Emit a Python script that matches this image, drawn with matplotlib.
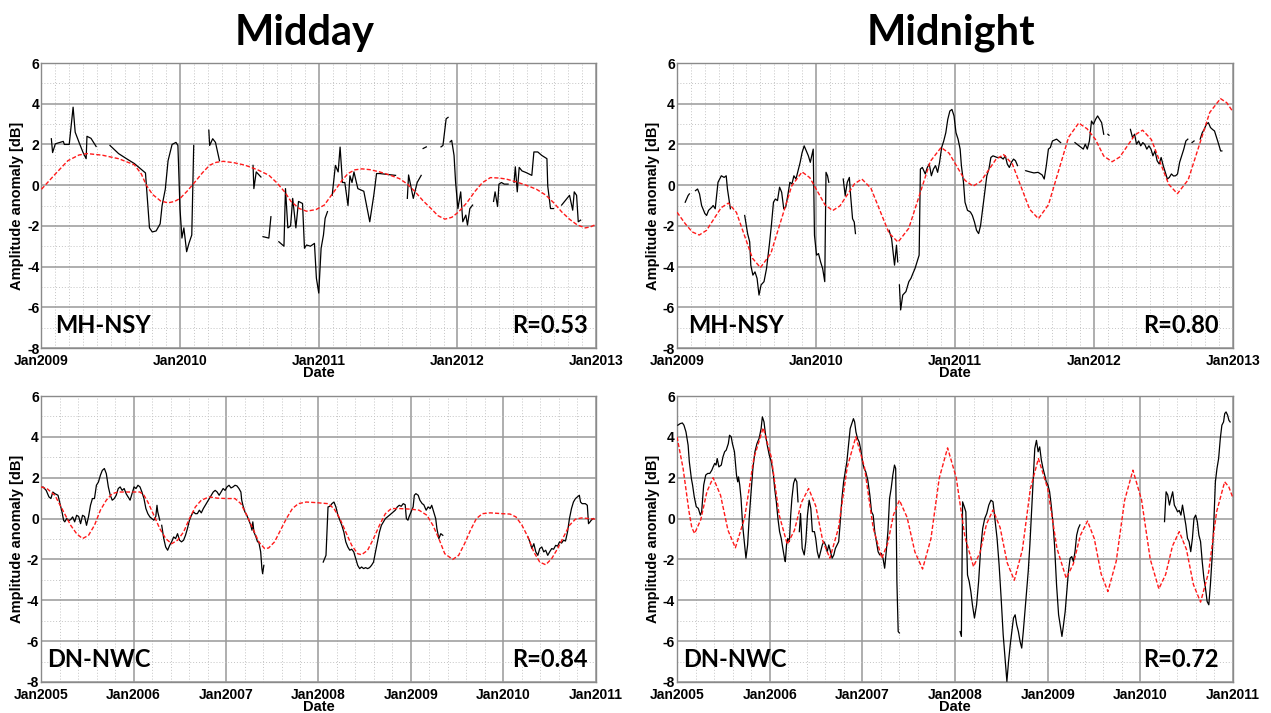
import numpy as np
import matplotlib
matplotlib.use("Agg")
from matplotlib import pyplot as plt
from matplotlib.ticker import MultipleLocator, FixedLocator

plt.rcParams["axes.unicode_minus"] = False
nan = np.nan

# ---- Midday, MH-NSY (2009-2013) ----
tl_obs_t = [2009.071, 2009.080, 2009.100, 2009.157, 2009.165, 2009.200, 2009.228, 2009.243, 2009.271, 2009.300,
            2009.322, 2009.328, 2009.357, 2009.394, nan,
            2009.494, 2009.556, 2009.613, 2009.670, 2009.713, 2009.750, 2009.762, 2009.779, 2009.799, 2009.827,
            2009.856, 2009.870, 2009.893, 2009.913, 2009.942, 2009.970, 2009.984, 2009.999, 2010.013, 2010.027,
            2010.047, 2010.064, 2010.084, 2010.098, nan,
            2010.207, 2010.213, 2010.235, 2010.255, 2010.284, nan,
            2010.526, 2010.532, 2010.549, 2010.583, nan,
            2010.598, 2010.640, 2010.655, nan,
            2010.712, 2010.749, 2010.760, 2010.777, 2010.797, 2010.812, 2010.835, 2010.854, 2010.883, 2010.897,
            2010.912, 2010.940, 2010.969, 2010.983, 2011.000, 2011.017, 2011.034, 2011.046, 2011.063, nan,
            2011.097, 2011.120, 2011.140, 2011.154, 2011.171, 2011.188, 2011.211, 2011.225, 2011.240, 2011.254,
            2011.282, 2011.325, 2011.368, 2011.397, 2011.417, 2011.439, 2011.554, nan,
            2011.639, 2011.648, 2011.682, 2011.710, 2011.739, nan,
            2011.753, 2011.776, nan,
            2011.882, 2011.896, 2011.919, 2011.933, nan,
            2011.947, 2011.959, 2011.976, 2011.987, 2012.004, 2012.024, 2012.039, 2012.061, 2012.073, 2012.090,
            2012.110, nan,
            2012.261, 2012.272, 2012.290, 2012.300, 2012.318, 2012.338, 2012.366, nan,
            2012.409, 2012.418, 2012.432, 2012.446, 2012.466, 2012.495, 2012.537, 2012.552, 2012.580, 2012.609,
            2012.646, 2012.652, 2012.672, 2012.694, nan,
            2012.752, 2012.809, 2012.832, 2012.843, 2012.860, 2012.872, 2012.889]
tl_obs_v = [2.28, 1.6, 2.03, 2.15, 2.0, 2.0, 3.83, 2.6, 2.1, 1.6,
            1.3, 2.4, 2.3, 1.9, nan,
            1.95, 1.55, 1.3, 1.06, 0.81, 0.6, -0.5, -2.1, -2.3, -2.25,
            -1.9, -1.0, -0.2, 1.2, 2.0, 2.1, 1.95, -1.15, -2.6, -2.1,
            -3.27, -2.85, -2.45, 1.95, nan,
            2.7, 1.95, 2.28, 2.1, 1.2, nan,
            0.97, -0.17, 0.65, 0.4, nan,
            -2.53, -2.6, -1.55, nan,
            -2.78, -3.0, -0.17, -2.1, -2.0, -0.65, -2.1, -0.8, -0.9, -3.1,
            -2.94, -3.0, -2.86, -4.57, -5.3, -3.1, -2.45, -1.63, -1.3, nan,
            -0.5, 0.97, 0.65, 1.87, 0.13, 0.13, -1.0, 0.46, 0.13, 0.65,
            -0.17, -0.3, -1.8, -0.5, 0.57, 0.57, 0.48, nan,
            -0.65, 0.5, -0.65, 0.13, 0.48, nan,
            1.8, 1.88, nan,
            1.88, 1.95, 3.26, 3.33, nan,
            2.12, 2.2, 1.46, 0.16, -1.15, -0.33, -1.8, -1.47, -1.96, -1.15,
            -0.98, nan,
            -0.8, -0.33, -1.05, 0.05, 0.13, 0.05, 0.05, nan,
            0.13, 0.9, -0.33, 0.87, 0.7, 0.62, 0.48, 1.63, 1.63, 1.46,
            1.3, -0.05, -1.15, -1.15, nan,
            -0.98, -0.5, -1.23, -0.33, -0.5, -1.8, -1.72]
tl_fit_t = [2009.0, 2009.10, 2009.19, 2009.27, 2009.33, 2009.44, 2009.556, 2009.67, 2009.72, 2009.756,
            2009.80, 2009.86, 2009.913, 2009.96, 2010.0, 2010.05, 2010.098, 2010.16, 2010.213, 2010.26,
            2010.312, 2010.39, 2010.469, 2010.56, 2010.64, 2010.70, 2010.754, 2010.80, 2010.86, 2010.912,
            2010.98, 2011.04, 2011.08, 2011.126, 2011.17, 2011.211, 2011.26, 2011.311, 2011.37, 2011.439,
            2011.51, 2011.582, 2011.64, 2011.696, 2011.75, 2011.81, 2011.86, 2011.91, 2011.96, 2012.01,
            2012.07, 2012.124, 2012.18, 2012.238, 2012.30, 2012.352, 2012.42, 2012.495, 2012.57, 2012.638,
            2012.70, 2012.752, 2012.81, 2012.866, 2012.923, 2012.96, 2013.0]
tl_fit_v = [-0.2, 0.55, 1.2, 1.48, 1.55, 1.47, 1.3, 1.0, 0.55, 0.0,
            -0.45, -0.78, -0.87, -0.8, -0.65, -0.3, 0.08, 0.6, 0.98, 1.12,
            1.17, 1.1, 0.98, 0.75, 0.49, 0.1, -0.33, -0.8, -1.15, -1.28,
            -1.2, -0.98, -0.6, -0.17, 0.25, 0.57, 0.75, 0.8, 0.76, 0.65,
            0.5, 0.32, 0.05, -0.33, -0.75, -1.15, -1.5, -1.67, -1.58, -1.31,
            -0.85, -0.33, 0.12, 0.37, 0.35, 0.3, 0.17, 0.0, -0.2, -0.49,
            -0.9, -1.31, -1.68, -1.96, -2.1, -2.05, -1.93]

# ---- Midnight, MH-NSY (2009-2013) ----
tr_obs_t = [2009.059, 2009.080, 2009.089, nan,
            2009.133, 2009.148, 2009.162, 2009.177, 2009.201, 2009.213, 2009.227, 2009.251, 2009.260, 2009.275,
            2009.295, 2009.319, 2009.339, 2009.354, 2009.363, 2009.384, nan,
            2009.487, 2009.508, 2009.523, 2009.531, 2009.546, 2009.561, 2009.576, 2009.590, 2009.605, 2009.626,
            2009.644, 2009.664, 2009.679, 2009.694, 2009.708, 2009.723, 2009.738, 2009.753, 2009.768, 2009.782,
            2009.797, 2009.812, 2009.827, 2009.841, 2009.856, 2009.871, 2009.886, 2009.900, 2009.915, 2009.930,
            2009.945, 2009.959, 2009.974, 2009.980, 2009.989, 2010.004, 2010.018, 2010.033, 2010.048, 2010.063,
            2010.072, 2010.083, 2010.092, nan,
            2010.196, 2010.210, 2010.225, 2010.240, 2010.249, 2010.263, 2010.275, 2010.284, nan,
            2010.526, 2010.544, 2010.565, 2010.579, 2010.588, nan,
            2010.600, 2010.609, 2010.624, 2010.647, 2010.668, 2010.683, 2010.697, 2010.712, 2010.727, 2010.742,
            2010.751, 2010.765, 2010.786, 2010.801, 2010.815, 2010.830, 2010.845, 2010.860, 2010.875, 2010.889,
            2010.904, 2010.919, 2010.934, 2010.948, 2010.963, 2010.978, 2010.993, 2011.007, 2011.022, 2011.037,
            2011.046, 2011.061, 2011.072, 2011.090, 2011.111, 2011.125, 2011.140, 2011.155, 2011.170, 2011.184,
            2011.199, 2011.214, 2011.229, 2011.244, 2011.258, 2011.273, 2011.303, 2011.332, 2011.347, 2011.362,
            2011.376, 2011.391, 2011.406, 2011.421, 2011.435, 2011.450, nan,
            2011.509, 2011.539, 2011.568, 2011.598, 2011.627, 2011.642, 2011.657, 2011.672, 2011.686, 2011.701,
            2011.731, 2011.760, nan,
            2011.863, 2011.893, 2011.908, 2011.923, 2011.937, 2011.952, 2011.967, 2011.982, 2011.996, 2012.011,
            2012.026, 2012.041, 2012.055, 2012.070, nan,
            2012.100, 2012.108, nan,
            2012.262, 2012.277, 2012.292, 2012.306, 2012.321, 2012.336, 2012.351, 2012.365, 2012.380, 2012.395,
            2012.410, 2012.424, 2012.439, 2012.454, 2012.469, 2012.483, 2012.498, 2012.513, 2012.528, 2012.542,
            2012.557, 2012.572, 2012.587, 2012.601, 2012.616, 2012.631, 2012.646, 2012.661, 2012.675, nan,
            2012.705, 2012.720, nan,
            2012.764, 2012.779, 2012.793, 2012.808, 2012.823, 2012.838, 2012.852, 2012.867, 2012.882, 2012.897,
            2012.911, 2012.920]
tr_obs_v = [-0.84, -0.51, -0.43, nan,
            -0.27, -0.19, -0.43, -1.0, -1.4, -1.49, -1.24, -1.08, -1.0, -1.16,
            0.14, 0.46, 0.38, 0.46, -0.19, -1.16, nan,
            -1.49, -2.38, -2.79, -3.93, -4.42, -4.26, -4.58, -5.4, -4.9, -4.74,
            -4.1, -2.95, -1.98, -0.84, -0.68, -0.76, -0.1, -0.35, -1.16, -1.08,
            -0.51, 0.14, 0.06, 0.46, 0.3, 0.71, 1.12, 1.6, 1.93, 1.68,
            1.44, 1.12, 1.6, 1.77, -2.46, -3.44, -3.36, -3.77, -4.1, -4.74,
            0.63, 0.46, 0.14, nan,
            0.3, -0.51, 0.14, 0.38, -0.51, -1.65, -1.81, -2.38, nan,
            -2.22, -2.63, -3.93, -2.95, -3.77, nan,
            -4.9, -6.13, -5.4, -5.23, -4.74, -4.58, -4.34, -4.1, -3.77, -3.44,
            0.79, 0.87, 0.55, 0.87, 1.04, 0.46, 0.79, 0.96, 0.63, 1.12,
            1.85, 2.17, 2.58, 3.23, 3.64, 3.72, 3.40, 2.58, 2.26, 1.77,
            0.96, 0.14, -0.84, -1.24, -1.32, -1.49, -1.81, -2.22, -2.38, -1.98,
            -1.16, -0.35, 0.46, 0.79, 1.36, 1.44, 1.36, 1.36, 1.28, 1.44,
            1.04, 0.87, 1.12, 1.28, 1.2, 0.96, nan,
            0.71, 0.65, 0.6, 0.63, 0.5, 0.3, 0.96, 1.77, 1.85, 2.17,
            2.26, 2.09, nan,
            2.09, 1.93, 1.85, 1.77, 2.01, 1.77, 2.17, 3.15, 2.99, 3.23,
            3.4, 3.23, 3.07, 2.5, nan,
            2.5, 2.45, nan,
            2.74, 2.34, 2.5, 2.01, 2.17, 1.93, 2.09, 2.0, 1.77, 1.93,
            1.77, 1.44, 1.68, 1.2, 1.04, 1.36, 0.96, 0.63, 0.3, 0.38,
            0.55, 0.45, 0.46, 0.55, 1.12, 1.44, 1.77, 2.17, 2.26, nan,
            2.09, 2.17, nan,
            2.26, 2.58, 2.74, 2.99, 3.07, 2.83, 2.74, 2.66, 2.34, 2.01,
            1.68, 1.68]
tr_fit_t = [2009.0, 2009.06, 2009.11, 2009.16, 2009.2125, 2009.265, 2009.3175, 2009.37, 2009.4275, 2009.485,
            2009.5425, 2009.60, 2009.675, 2009.75, 2009.825, 2009.90, 2009.955, 2010.01, 2010.065, 2010.12,
            2010.1725, 2010.225, 2010.2775, 2010.33, 2010.395, 2010.46, 2010.525, 2010.59, 2010.6675, 2010.745,
            2010.8225, 2010.90, 2010.9575, 2011.015, 2011.0725, 2011.13, 2011.185, 2011.24, 2011.295, 2011.35,
            2011.4125, 2011.475, 2011.5375, 2011.60, 2011.6725, 2011.745, 2011.8175, 2011.89, 2011.95, 2012.01,
            2012.07, 2012.13, 2012.185, 2012.24, 2012.295, 2012.35, 2012.4125, 2012.475, 2012.5375, 2012.60,
            2012.6775, 2012.755, 2012.8325, 2012.91, 2012.955, 2013.0]
tr_fit_v = [-1.33, -1.9, -2.3, -2.45, -2.22, -1.665, -1.11, -0.88, -1.34, -2.465,
            -3.587, -4.05, -3.36, -1.70, -0.04, 0.65, 0.37, -0.30, -0.97, -1.25,
            -1.02, -0.475, 0.07, 0.30, -0.15, -1.25, -2.35, -2.80, -2.12, -0.475,
            1.17, 1.85, 1.57, 0.90, 0.23, -0.05, 0.18, 0.725, 1.27, 1.50,
            1.04, -0.075, -1.19, -1.65, -0.96, 0.70, 2.36, 3.05, 2.77, 2.25,
            1.43, 1.15, 1.38, 1.925, 2.47, 2.70, 2.24, 1.14, 0.04, -0.42,
            0.26, 1.915, 3.57, 4.25, 4.05, 3.6]

# ---- Midday, DN-NWC (2005-2011) ----
bl_obs_t = [2005.021, 2005.056, 2005.086, 2005.107, 2005.128, 2005.150, 2005.184, 2005.201, 2005.227, 2005.244,
            2005.257, 2005.278, 2005.300, 2005.321, 2005.342, 2005.364, 2005.385, 2005.407, 2005.428, 2005.449,
            2005.471, 2005.492, 2005.514, 2005.535, 2005.556, 2005.578, 2005.599, 2005.621, 2005.642, 2005.663,
            2005.685, 2005.706, 2005.728, 2005.749, 2005.770, 2005.792, 2005.813, 2005.835, 2005.856, 2005.877,
            2005.899, 2005.920, 2005.942, 2005.963, 2005.984, 2006.006, 2006.027, 2006.048, 2006.070, 2006.091,
            2006.113, 2006.134, 2006.155, 2006.177, 2006.198, 2006.220, 2006.241, 2006.254, 2006.262, 2006.284, nan,
            2006.305, 2006.327, 2006.348, 2006.369, 2006.391, 2006.412, 2006.434, 2006.455, 2006.476, 2006.498,
            2006.519, 2006.541, 2006.562, 2006.583, 2006.605, 2006.626, 2006.648, 2006.669, 2006.690, 2006.712,
            2006.733, 2006.755, 2006.776, 2006.797, 2006.819, 2006.840, 2006.862, 2006.883, 2006.904, 2006.926,
            2006.947, 2006.969, 2006.990, 2007.011, 2007.033, 2007.054, 2007.076, 2007.097, 2007.118, 2007.140,
            2007.161, 2007.170, 2007.183, 2007.204, 2007.225, 2007.247, 2007.268, 2007.281, 2007.290, 2007.302,
            2007.324, 2007.341, 2007.354, 2007.375, 2007.388, 2007.396, 2007.409, nan,
            2008.051, 2008.081, 2008.103, 2008.124, 2008.145, 2008.167, 2008.188, 2008.210, 2008.231, 2008.252,
            2008.274, 2008.295, 2008.317, 2008.338, 2008.359, 2008.381, 2008.402, 2008.424, 2008.445, 2008.466,
            2008.488, 2008.509, 2008.531, 2008.552, 2008.573, 2008.595, 2008.616, 2008.638, 2008.659, 2008.680,
            2008.702, 2008.723, 2008.745, 2008.766, 2008.787, 2008.809, 2008.830, 2008.852, 2008.873, 2008.894,
            2008.916, 2008.937, 2008.950, 2008.967, 2008.980, 2009.001, 2009.023, 2009.036, 2009.053, 2009.078,
            2009.096, 2009.121, 2009.138, 2009.164, 2009.185, 2009.207, 2009.224, 2009.245, 2009.267, 2009.280,
            2009.301, 2009.322, 2009.344, nan,
            2010.264, 2010.285, 2010.307, 2010.328, 2010.349, 2010.371, 2010.392, 2010.414, 2010.435, 2010.456,
            2010.478, 2010.499, 2010.521, 2010.542, 2010.564, 2010.585, 2010.606, 2010.628, 2010.649, 2010.670,
            2010.692, 2010.713, 2010.735, 2010.756, 2010.778, 2010.799, 2010.820, 2010.833, 2010.850, 2010.885,
            2010.906, 2010.919, 2010.936, 2010.949, 2010.970]
bl_obs_v = [1.55, 1.38, 1.06, 0.98, 1.3, 1.22, 1.14, 0.81, 0.33, -0.08,
            -0.16, 0.0, -0.1, -0.05, 0.08, -0.16, 0.16, 0.1, -0.25, 0.16,
            0.1, -0.33, 0.1, 0.65, 0.98, 0.98, 1.63, 1.79, 2.12, 2.36,
            2.45, 2.2, 1.55, 1.14, 0.9, 0.98, 1.14, 1.47, 1.55, 1.38,
            1.47, 1.22, 1.06, 0.9, 1.22, 1.55, 1.47, 1.63, 1.55, 1.3,
            0.98, 0.49, 0.24, 0.08, 0.0, -0.08, 0.1, 0.65, 0.33, -0.08, nan,
            -0.33, -0.98, -1.39, -1.55, -1.31, -1.14, -0.9, -0.98, -0.74, -1.06,
            -1.14, -1.06, -0.82, -0.49, -0.08, 0.16, 0.33, 0.24, 0.24, 0.41,
            0.28, 0.49, 0.65, 0.81, 0.98, 1.14, 1.3, 1.38, 1.3, 1.14,
            1.3, 1.47, 1.38, 1.55, 1.63, 1.5, 1.55, 1.63, 1.6, 1.47,
            1.3, 0.9, 0.65, 0.33, 0.16, -0.08, -0.33, -0.57, -0.16, -0.66,
            -0.9, -1.14, -1.14, -1.63, -2.45, -2.7, -2.29, nan,
            -2.13, -1.8, 0.57, 0.6, 0.73, 0.81, 0.57, 0.16, -0.08, -0.33,
            -0.66, -1.14, -1.39, -1.55, -1.5, -1.63, -1.96, -2.29, -2.45, -2.37,
            -2.45, -2.4, -2.45, -2.4, -2.29, -2.13, -1.63, -1.14, -0.66, -0.33,
            -0.16, 0.0, 0.08, 0.16, 0.24, 0.33, 0.41, 0.57, 0.65, 0.6,
            0.73, 0.68, 0.0, -0.08, 0.1, 0.33, 0.57, 1.14, 1.22, 1.14,
            0.9, 0.73, 0.68, 0.41, 0.57, 0.49, 0.65, 0.33, 0.0, -0.49,
            -0.98, -0.74, -0.82, nan,
            -0.9, -1.14, -1.47, -1.23, -1.63, -1.8, -1.47, -1.39, -1.63, -1.55,
            -1.8, -1.63, -1.47, -1.5, -1.31, -1.35, -1.14, -1.2, -1.06, -1.1,
            -0.66, 0.0, 0.49, 0.81, 0.98, 1.06, 1.14, 0.81, 0.73, 0.73,
            0.65, -0.25, -0.16, -0.08, 0.0]
bl_fit_t = [2005.0, 2005.064, 2005.150, 2005.235, 2005.321, 2005.385, 2005.449, 2005.514, 2005.578, 2005.642,
            2005.706, 2005.770, 2005.835, 2005.920, 2006.006, 2006.070, 2006.113, 2006.155, 2006.220, 2006.284,
            2006.348, 2006.412, 2006.476, 2006.541, 2006.605, 2006.669, 2006.733, 2006.819, 2006.904, 2007.011,
            2007.097, 2007.161, 2007.225, 2007.290, 2007.354, 2007.418, 2007.461, 2007.525, 2007.589, 2007.653,
            2007.718, 2007.782, 2007.867, 2007.974, 2008.103, 2008.167, 2008.231, 2008.295, 2008.359, 2008.424,
            2008.466, 2008.531, 2008.595, 2008.659, 2008.723, 2008.787, 2008.873, 2009.001, 2009.087, 2009.173,
            2009.237, 2009.301, 2009.365, 2009.451, 2009.515, 2009.579, 2009.643, 2009.707, 2009.772, 2009.857,
            2009.986, 2010.071, 2010.135, 2010.200, 2010.264, 2010.328, 2010.392, 2010.456, 2010.521, 2010.585,
            2010.649, 2010.713, 2010.778, 2010.842, 2010.927, 2011.0]
bl_fit_v = [1.55, 1.47, 1.14, 0.41, -0.33, -0.74, -0.98, -0.82, -0.33, 0.41,
            0.9, 1.22, 1.3, 1.3, 1.3, 1.3, 1.14, 0.81, 0.16, -0.49,
            -0.98, -1.23, -1.06, -0.66, 0.0, 0.57, 0.9, 1.06, 1.0, 0.98,
            0.98, 0.73, 0.16, -0.49, -1.14, -1.47, -1.44, -1.14, -0.57, 0.0,
            0.49, 0.73, 0.81, 0.78, 0.73, 0.49, 0.0, -0.66, -1.31, -1.72,
            -1.77, -1.55, -0.98, -0.33, 0.24, 0.49, 0.49, 0.46, 0.41, 0.16,
            -0.33, -0.98, -1.72, -2.0, -1.8, -1.23, -0.57, 0.0, 0.24, 0.28,
            0.24, 0.22, 0.08, -0.33, -0.9, -1.64, -2.13, -2.26, -1.96, -1.47,
            -0.9, -0.33, -0.03, 0.03, 0.0, -0.03]

# ---- Midnight, DN-NWC (2005-2011) ----
br_obs_t = [2005.009, 2005.035, 2005.058, 2005.075, 2005.097, 2005.120, 2005.133, 2005.155, 2005.168, 2005.186,
            2005.208, 2005.230, 2005.252, 2005.266, 2005.288, 2005.310, 2005.332, 2005.354, 2005.376, 2005.390,
            2005.407, 2005.421, 2005.434, 2005.452, 2005.478, 2005.496, 2005.514, 2005.531, 2005.554, 2005.567,
            2005.585, 2005.598, 2005.620, 2005.642, 2005.655, 2005.664, 2005.677, 2005.691, 2005.708, 2005.726,
            2005.744, 2005.762, 2005.779, 2005.797, 2005.819, 2005.841, 2005.863, 2005.886, 2005.908, 2005.921,
            2005.939, 2005.956, 2005.974, 2005.996, 2006.018, 2006.041, 2006.054, 2006.072, 2006.089, 2006.107,
            2006.125, 2006.142, 2006.160, 2006.169, 2006.182, 2006.196, 2006.213, 2006.227, 2006.240, 2006.258,
            2006.275, 2006.293, 2006.306, nan,
            2006.320, 2006.333, 2006.351, 2006.373, 2006.390, 2006.408, 2006.426, 2006.444, 2006.461, 2006.483,
            2006.497, 2006.514, 2006.532, 2006.550, 2006.568, 2006.585, 2006.603, 2006.621, 2006.638, 2006.656,
            2006.674, 2006.692, 2006.709, 2006.727, 2006.745, 2006.762, 2006.780, 2006.798, 2006.816, 2006.833,
            2006.851, 2006.869, 2006.886, 2006.904, 2006.917, 2006.931, 2006.948, 2006.966, 2006.984, 2007.002,
            2007.019, 2007.037, 2007.059, 2007.081, 2007.099, 2007.117, 2007.134, 2007.152, 2007.170, 2007.188,
            2007.205, 2007.223, 2007.241, 2007.258, 2007.276, 2007.294, 2007.311, 2007.329, 2007.347, 2007.360,
            2007.373, 2007.387, 2007.400, nan,
            2008.055, 2008.069, 2008.082, 2008.100, 2008.117, 2008.135, 2008.153, 2008.171, 2008.188, 2008.210,
            2008.233, 2008.255, 2008.277, 2008.299, 2008.321, 2008.343, 2008.365, 2008.388, 2008.410, 2008.432,
            2008.454, 2008.476, 2008.498, 2008.520, 2008.543, 2008.560, 2008.578, 2008.596, 2008.613, 2008.631,
            2008.649, 2008.666, 2008.684, 2008.702, 2008.720, 2008.737, 2008.755, 2008.773, 2008.790, 2008.808,
            2008.826, 2008.844, 2008.861, 2008.879, 2008.897, 2008.914, 2008.932, 2008.950, 2008.968, 2008.985,
            2009.003, 2009.021, 2009.038, 2009.056, 2009.074, 2009.096, 2009.118, 2009.140, 2009.154, 2009.171,
            2009.189, 2009.207, 2009.224, 2009.242, 2009.260, 2009.278, 2009.295, 2009.313, 2009.331, 2009.348, nan,
            2010.261, 2010.278, 2010.296, 2010.314, 2010.331, 2010.349, 2010.367, 2010.385, 2010.402, 2010.420,
            2010.438, 2010.455, 2010.473, 2010.491, 2010.509, 2010.526, 2010.544, 2010.562, 2010.579, 2010.597,
            2010.615, 2010.632, 2010.650, 2010.668, 2010.686, 2010.703, 2010.721, 2010.739, 2010.756, 2010.774,
            2010.792, 2010.810, 2010.827, 2010.845, 2010.863, 2010.880, 2010.898, 2010.911, 2010.925, 2010.942,
            2010.956, 2010.969]
br_obs_v = [4.57, 4.65, 4.68, 4.57, 4.24, 3.59, 2.78, 1.96, 1.64, 1.07,
            0.58, 0.5, 0.17, 0.33, 1.64, 2.13, 2.21, 2.21, 2.37, 2.53,
            2.7, 2.62, 2.94, 2.53, 2.62, 3.02, 3.27, 3.35, 3.67, 4.08,
            4.0, 3.67, 3.27, 2.13, 1.8, 2.04, 1.64, 0.99, -0.31, -1.13,
            -1.94, -1.29, 0.01, 1.15, 2.45, 3.27, 3.67, 3.92, 4.41, 4.98,
            4.73, 4.08, 3.59, 3.1, 2.78, 2.13, 1.47, 0.82, 0.01, -0.64,
            -0.97, -1.46, -1.94, -2.11, -1.29, -0.97, -1.13, 0.17, 0.99, 1.72,
            1.96, 1.8, 0.82, nan,
            -0.64, 0.25, -1.46, -1.78, -1.13, 0.17, 0.9, 0.5, -0.64, -0.64,
            -0.97, -1.62, -1.94, -1.62, -1.29, -1.13, -1.29, -1.62, -1.29, -1.62,
            -1.94, -1.78, -1.46, -1.29, -1.13, -0.15, 0.99, 1.8, 2.29, 2.78,
            3.59, 4.41, 4.65, 4.89, 4.73, 4.24, 3.92, 3.75, 3.35, 2.78,
            2.45, 2.29, 1.88, 1.15, 0.33, 0.17, -0.64, -1.13, -1.62, -1.78,
            -1.7, -1.94, -2.43, -1.62, -0.64, 0.99, 1.47, 2.13, 2.62, 2.45,
            -3.08, -5.53, -5.6, nan,
            -5.53, -5.77, 0.82, 0.58, 0.33, -2.76, -3.08, -3.57, -4.22, -4.87,
            -4.22, -3.08, -1.46, -0.48, 0.01, 0.25, 0.66, 0.9, 0.82, -0.07,
            -0.97, -2.27, -3.9, -5.69, -6.99, -7.97, -6.99, -6.18, -5.53, -4.87,
            -4.71, -5.2, -5.53, -6.01, -6.34, -5.53, -4.55, -3.57, -2.6, -1.29,
            0.33, 1.96, 3.43, 3.83, 3.27, 3.51, 2.86, 2.45, 2.13, 1.8,
            1.64, 1.31, 0.66, -0.15, -1.29, -3.25, -4.71, -5.36, -5.77, -5.2,
            -4.55, -3.57, -2.6, -1.94, -1.86, -2.11, -1.62, -0.81, -0.48, -0.31, nan,
            -0.15, 1.31, 1.15, 0.66, 0.99, 1.31, 0.66, 0.5, 0.33, 0.4,
            0.17, 0.66, 0.17, -0.31, -0.97, -1.13, -1.62, -0.97, 0.01, 0.17,
            -0.15, -0.81, -1.13, -2.11, -2.92, -3.41, -4.06, -4.22, -3.25, -1.94,
            -0.31, 1.8, 2.45, 2.94, 3.92, 4.57, 4.73, 5.14, 5.22, 5.06,
            4.81, 4.73]
br_fit_t = [2005.0, 2005.066, 2005.13, 2005.16, 2005.19, 2005.257, 2005.323, 2005.39, 2005.47, 2005.55,
            2005.63, 2005.73, 2005.83, 2005.93, 2006.017, 2006.103, 2006.19, 2006.267, 2006.343, 2006.42,
            2006.497, 2006.573, 2006.65, 2006.743, 2006.837, 2006.93, 2007.023, 2007.117, 2007.21, 2007.273,
            2007.337, 2007.40, 2007.483, 2007.567, 2007.65, 2007.74, 2007.83, 2007.92, 2008.013, 2008.107,
            2008.20, 2008.27, 2008.34, 2008.41, 2008.487, 2008.563, 2008.64, 2008.727, 2008.813, 2008.90,
            2009.0, 2009.1, 2009.20, 2009.277, 2009.353, 2009.43, 2009.503, 2009.577, 2009.65, 2009.74,
            2009.83, 2009.92, 2010.013, 2010.107, 2010.20, 2010.273, 2010.347, 2010.42, 2010.497, 2010.573,
            2010.65, 2010.737, 2010.823, 2010.91, 2010.955, 2011.0]
br_fit_v = [4.0, 2.45, 0.33, -0.45, -0.73, -0.05, 1.32, 2.0, 1.14, -0.57,
            -1.43, 0.04, 2.97, 4.44, 3.015, 0.165, -1.26, -0.58, 0.79, 1.47,
            0.62, -1.09, -1.94, -0.455, 2.515, 4.0, 2.515, -0.455, -1.94, -1.23,
            0.19, 0.9, 0.06, -1.63, -2.47, -0.99, 1.98, 3.46, 2.01, -0.90,
            -2.35, -1.66, -0.27, 0.42, -0.44, -2.16, -3.02, -1.53, 1.45, 2.94,
            1.475, -1.455, -2.92, -2.22, -0.82, -0.12, -0.98, -2.71, -3.57, -2.085,
            0.885, 2.37, 0.92, -1.99, -3.44, -2.74, -1.34, -0.64, -1.50, -3.23,
            -4.09, -2.62, 0.33, 1.8, 1.55, 1.0]

panels = [
    # position, years, minor step, obs, fit, site, R, label x positions
    ([0.03265, 0.51192, 0.43627, 0.39972], (2009, 2013), 0.1, tl_obs_t, tl_obs_v, tl_fit_t, tl_fit_v,
     "MH-NSY", "R=0.53", 0.0243, 0.9856),
    ([0.53265, 0.51192, 0.43745, 0.39972], (2009, 2013), 0.1, tr_obs_t, tr_obs_v, tr_fit_t, tr_fit_v,
     "MH-NSY", "R=0.80", 0.0198, 0.9748),
    ([0.03226, 0.04348, 0.43666, 0.40112], (2005, 2011), 0.2, bl_obs_t, bl_obs_v, bl_fit_t, bl_fit_v,
     "DN-NWC", "R=0.84", 0.0108, 0.9856),
    ([0.53265, 0.04348, 0.43745, 0.40112], (2005, 2011), 0.2, br_obs_t, br_obs_v, br_fit_t, br_fit_v,
     "DN-NWC", "R=0.72", 0.0108, 0.9748),
]

tick_font = "Liberation Sans"
big_font = "Lato"

fig = plt.figure(figsize=(12.71, 7.13), dpi=100)

for pos, (y0, y1), mstep, ot, ov, ft, fv, site, rtxt, lx, rx in panels:
    ax = fig.add_axes(pos)
    ax.set_xlim(y0, y1)
    ax.set_ylim(-8, 6)
    years = list(range(y0, y1 + 1))
    ax.xaxis.set_major_locator(FixedLocator(years))
    ax.set_xticklabels(["Jan%d" % y for y in years])
    ax.xaxis.set_minor_locator(MultipleLocator(mstep))
    ax.yaxis.set_major_locator(MultipleLocator(2))
    ax.yaxis.set_minor_locator(MultipleLocator(1))
    ax.grid(which="major", color="#999999", lw=1.1, ls="-", zorder=0)
    ax.grid(which="minor", color="#c4c4c4", lw=0.7, ls=(0, (1, 2)), zorder=0)
    ax.set_axisbelow(True)
    ax.tick_params(which="both", length=0)
    ax.tick_params(axis="x", pad=4)
    ax.tick_params(axis="y", pad=1.5)
    for lab in ax.get_xticklabels() + ax.get_yticklabels():
        lab.set_fontfamily(tick_font)
        lab.set_fontweight("bold")
        lab.set_fontsize(10)
    for sp in ax.spines.values():
        sp.set_color("#8a8a8a")
        sp.set_linewidth(1.0)

    ax.plot(ot, ov, color="black", lw=0.9, zorder=3)
    ax.plot(ft, fv, color="#ff1a1a", lw=1.0, ls=(0, (3, 1.5)), zorder=4)

    ax.set_xlabel("Date", fontfamily=tick_font, fontweight="bold", fontsize=10.5, labelpad=-1)
    ax.set_ylabel("Amplitude anomaly [dB]", fontfamily=tick_font, fontweight="bold", fontsize=10.5, labelpad=2)

    ax.text(lx, 0.053, site, transform=ax.transAxes, ha="left", va="baseline",
            fontfamily=big_font, fontweight="bold", fontsize=17, zorder=5)
    ax.text(rx, 0.053, rtxt, transform=ax.transAxes, ha="right", va="baseline",
            fontfamily=big_font, fontweight="bold", fontsize=17, zorder=5)

fig.text(305 / 1271, 1 - 45 / 713, "Midday", ha="center", va="baseline",
         fontfamily=big_font, fontweight="bold", fontsize=30)
fig.text(951 / 1271, 1 - 45 / 713, "Midnight", ha="center", va="baseline",
         fontfamily=big_font, fontweight="bold", fontsize=30)

fig.savefig("out.png", dpi=100)
